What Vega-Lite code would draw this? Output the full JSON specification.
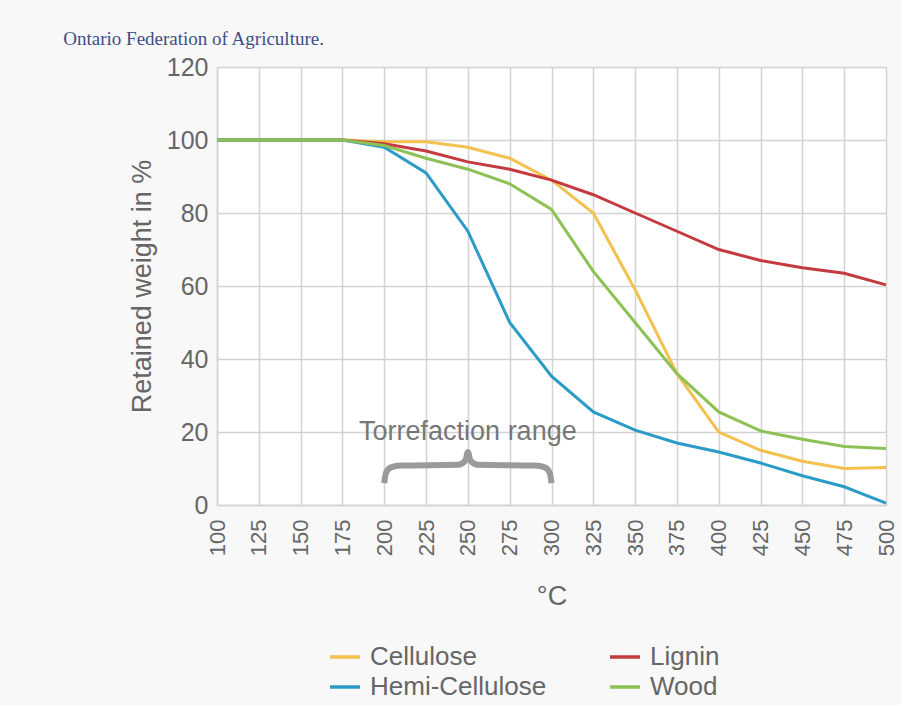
{
  "$schema": "https://vega.github.io/schema/vega-lite/v6.json",
  "width": 669,
  "height": 438,
  "background": "#f8f8f8",
  "padding": {"left": 63, "top": 30, "right": 5, "bottom": 5},
  "title": {
    "text": "Ontario Federation of Agriculture.",
    "anchor": "start",
    "frame": "bounds",
    "font": "Liberation Serif",
    "fontSize": 19,
    "fontWeight": "normal",
    "color": "#3e4d88",
    "offset": 6,
    "dx": -65
  },
  "config": {
    "view": {"stroke": null, "fill": "white"},
    "font": "Liberation Sans",
    "axis": {
      "gridColor": "#d2d2d2",
      "gridWidth": 1.5,
      "gridOpacity": 1,
      "domainColor": "#d2d2d2",
      "domainWidth": 1.5,
      "ticks": false,
      "labelColor": "#666666",
      "titleColor": "#666666",
      "labelFont": "Liberation Sans",
      "titleFont": "Liberation Sans",
      "titleFontWeight": "normal"
    }
  },
  "layer": [
    {
      "data": {
        "values": [
          {"temp": 100, "weight": 100, "material": "Cellulose"},
          {"temp": 125, "weight": 100, "material": "Cellulose"},
          {"temp": 150, "weight": 100, "material": "Cellulose"},
          {"temp": 175, "weight": 100, "material": "Cellulose"},
          {"temp": 200, "weight": 99.5, "material": "Cellulose"},
          {"temp": 225, "weight": 99.5, "material": "Cellulose"},
          {"temp": 250, "weight": 98, "material": "Cellulose"},
          {"temp": 275, "weight": 95, "material": "Cellulose"},
          {"temp": 300, "weight": 89, "material": "Cellulose"},
          {"temp": 325, "weight": 80, "material": "Cellulose"},
          {"temp": 350, "weight": 59, "material": "Cellulose"},
          {"temp": 375, "weight": 36, "material": "Cellulose"},
          {"temp": 400, "weight": 20, "material": "Cellulose"},
          {"temp": 425, "weight": 15, "material": "Cellulose"},
          {"temp": 450, "weight": 12, "material": "Cellulose"},
          {"temp": 475, "weight": 10, "material": "Cellulose"},
          {"temp": 500, "weight": 10.3, "material": "Cellulose"},
          {"temp": 100, "weight": 100, "material": "Lignin"},
          {"temp": 125, "weight": 100, "material": "Lignin"},
          {"temp": 150, "weight": 100, "material": "Lignin"},
          {"temp": 175, "weight": 100, "material": "Lignin"},
          {"temp": 200, "weight": 99, "material": "Lignin"},
          {"temp": 225, "weight": 97, "material": "Lignin"},
          {"temp": 250, "weight": 94, "material": "Lignin"},
          {"temp": 275, "weight": 92, "material": "Lignin"},
          {"temp": 300, "weight": 89, "material": "Lignin"},
          {"temp": 325, "weight": 85, "material": "Lignin"},
          {"temp": 350, "weight": 80, "material": "Lignin"},
          {"temp": 375, "weight": 75, "material": "Lignin"},
          {"temp": 400, "weight": 70, "material": "Lignin"},
          {"temp": 425, "weight": 67, "material": "Lignin"},
          {"temp": 450, "weight": 65, "material": "Lignin"},
          {"temp": 475, "weight": 63.5, "material": "Lignin"},
          {"temp": 500, "weight": 60.3, "material": "Lignin"},
          {"temp": 100, "weight": 100, "material": "Hemi-Cellulose"},
          {"temp": 125, "weight": 100, "material": "Hemi-Cellulose"},
          {"temp": 150, "weight": 100, "material": "Hemi-Cellulose"},
          {"temp": 175, "weight": 100, "material": "Hemi-Cellulose"},
          {"temp": 200, "weight": 98, "material": "Hemi-Cellulose"},
          {"temp": 225, "weight": 91, "material": "Hemi-Cellulose"},
          {"temp": 250, "weight": 75, "material": "Hemi-Cellulose"},
          {"temp": 275, "weight": 50, "material": "Hemi-Cellulose"},
          {"temp": 300, "weight": 35.3, "material": "Hemi-Cellulose"},
          {"temp": 325, "weight": 25.5, "material": "Hemi-Cellulose"},
          {"temp": 350, "weight": 20.5, "material": "Hemi-Cellulose"},
          {"temp": 375, "weight": 17, "material": "Hemi-Cellulose"},
          {"temp": 400, "weight": 14.5, "material": "Hemi-Cellulose"},
          {"temp": 425, "weight": 11.5, "material": "Hemi-Cellulose"},
          {"temp": 450, "weight": 8, "material": "Hemi-Cellulose"},
          {"temp": 475, "weight": 5, "material": "Hemi-Cellulose"},
          {"temp": 500, "weight": 0.5, "material": "Hemi-Cellulose"},
          {"temp": 100, "weight": 100, "material": "Wood"},
          {"temp": 125, "weight": 100, "material": "Wood"},
          {"temp": 150, "weight": 100, "material": "Wood"},
          {"temp": 175, "weight": 100, "material": "Wood"},
          {"temp": 200, "weight": 98.5, "material": "Wood"},
          {"temp": 225, "weight": 95, "material": "Wood"},
          {"temp": 250, "weight": 92, "material": "Wood"},
          {"temp": 275, "weight": 88, "material": "Wood"},
          {"temp": 300, "weight": 81, "material": "Wood"},
          {"temp": 325, "weight": 64, "material": "Wood"},
          {"temp": 350, "weight": 50, "material": "Wood"},
          {"temp": 375, "weight": 36, "material": "Wood"},
          {"temp": 400, "weight": 25.5, "material": "Wood"},
          {"temp": 425, "weight": 20.3, "material": "Wood"},
          {"temp": 450, "weight": 18, "material": "Wood"},
          {"temp": 475, "weight": 16, "material": "Wood"},
          {"temp": 500, "weight": 15.5, "material": "Wood"}
        ]
      },
      "mark": {"type": "line", "strokeWidth": 3},
      "encoding": {
        "x": {
          "field": "temp",
          "type": "quantitative",
          "scale": {"domain": [100, 500], "nice": false, "zero": false},
          "axis": {
            "title": "°C",
            "values": [100, 125, 150, 175, 200, 225, 250, 275, 300, 325, 350, 375, 400, 425, 450, 475, 500],
            "labelAngle": 270,
            "labelFontSize": 22,
            "labelPadding": 14,
            "titleFontSize": 27,
            "titlePadding": 28
          }
        },
        "y": {
          "field": "weight",
          "type": "quantitative",
          "scale": {"domain": [0, 120], "nice": false},
          "axis": {
            "title": "Retained weight in %",
            "values": [0, 20, 40, 60, 80, 100, 120],
            "labelFontSize": 25,
            "labelPadding": 9,
            "titleFontSize": 27,
            "titlePadding": 10
          }
        },
        "color": {
          "field": "material",
          "type": "nominal",
          "scale": {
            "domain": ["Cellulose", "Hemi-Cellulose", "Lignin", "Wood"],
            "range": ["#f2c14e", "#2b9bc7", "#c43a3f", "#8dc155"]
          },
          "legend": {
            "title": null,
            "orient": "none",
            "legendX": 111,
            "legendY": 573,
            "columns": 2,
            "columnPadding": 56,
            "rowPadding": 0,
            "symbolType": "stroke",
            "symbolStrokeWidth": 3.5,
            "symbolSize": 900,
            "labelFontSize": 26,
            "labelLimit": 400,
            "labelColor": "#666666",
            "labelFont": "Liberation Sans",
            "labelOffset": 8
          }
        }
      }
    },
    {
      "data": {
        "values": [
          {"temp": 200, "weight": 6},
          {"temp": 201, "weight": 8.8},
          {"temp": 204, "weight": 10.3},
          {"temp": 210, "weight": 10.8},
          {"temp": 244, "weight": 11},
          {"temp": 248.5, "weight": 12.2},
          {"temp": 250, "weight": 14.5},
          {"temp": 251.5, "weight": 12.2},
          {"temp": 256, "weight": 11},
          {"temp": 290, "weight": 10.8},
          {"temp": 296, "weight": 10.3},
          {"temp": 299, "weight": 8.8},
          {"temp": 300, "weight": 6}
        ]
      },
      "mark": {"type": "line", "color": "#9a9a9a", "strokeWidth": 6, "interpolate": "monotone"},
      "encoding": {
        "x": {"field": "temp", "type": "quantitative"},
        "y": {"field": "weight", "type": "quantitative"}
      }
    },
    {
      "data": {"values": [{"temp": 250, "weight": 20, "label": "Torrefaction range"}]},
      "mark": {"type": "text", "fontSize": 27, "color": "#777777", "font": "Liberation Sans", "baseline": "middle", "align": "center"},
      "encoding": {
        "x": {"field": "temp", "type": "quantitative"},
        "y": {"field": "weight", "type": "quantitative"},
        "text": {"field": "label"}
      }
    }
  ]
}
